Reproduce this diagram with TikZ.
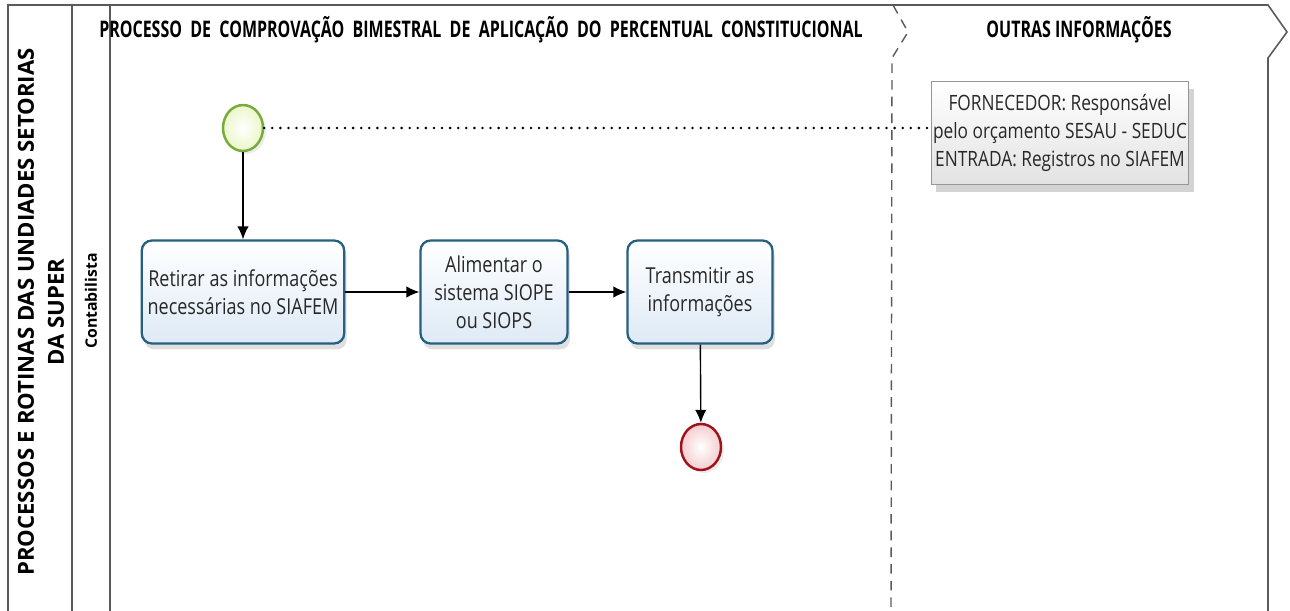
\documentclass[tikz,border=0pt]{standalone}
\usepackage{fontspec}
\setmainfont[FakeStretch=0.82]{Open Sans}
\newfontfamily\poolfont{Open Sans}
\newfontfamily\headfont[FakeStretch=0.70]{Open Sans}
\usepackage{xcolor}
\usetikzlibrary{shadows,arrows.meta,positioning,shapes.geometric}
\tikzset{>=latex}

\definecolor{frameline}{RGB}{90,90,90}
\definecolor{taskline}{RGB}{38,96,128}
\definecolor{taskfill}{RGB}{222,234,246}
\definecolor{startline}{RGB}{120,170,60}
\definecolor{startfill}{RGB}{236,246,200}
\definecolor{endline}{RGB}{160,20,25}
\definecolor{endfill}{RGB}{244,205,208}
\definecolor{noteline}{RGB}{150,150,150}
\definecolor{notefill}{RGB}{226,226,226}
\definecolor{txt}{RGB}{40,40,40}

\tikzset{
    lane/.style={draw=frameline, line width=0.9pt},
    phase/.style={draw=frameline, line width=0.8pt, dash pattern=on 5.5pt off 4pt},
    task/.style={
        draw=taskline, line width=1.3pt, rounded corners=0.2cm,
        top color=white, bottom color=taskfill,
        align=center, text=txt, minimum height=2.06cm,
        font=\fontsize{12.5}{16}\selectfont,
        drop shadow={shadow xshift=0.5mm, shadow yshift=-1.2mm, opacity=0.25},
    },
    event/.style={
        ellipse, line width=1.4pt, minimum width=0.8cm, minimum height=0.92cm, inner sep=0pt,
        drop shadow={shadow xshift=0.6mm, shadow yshift=-0.6mm, opacity=0.15},
    },
    note/.style={
        draw=noteline, line width=0.6pt, top color=white, bottom color=notefill,
        align=center, text=txt, minimum width=5.08cm, minimum height=2.06cm, inner xsep=1pt,
        font=\fontsize{12}{16}\selectfont,
        drop shadow={shadow xshift=1mm, shadow yshift=-1.5mm, opacity=0.35},
    },
    flow/.style={-{Latex[length=2.6mm, width=2.3mm]}, line width=0.8pt, black},
    header/.style={font=\headfont\bfseries\fontsize{13}{16}\selectfont, text=black},
}

\begin{document}
\begin{tikzpicture}[x=0.02cm, y=-0.02cm]
    \useasboundingbox (0,0) rectangle (1290,611);

    % pool and lane frame
    \draw[lane] (8,611) -- (8,5) -- (1268,5) -- (1287,32) -- (1268,58) -- (1268,611);
    \draw[lane] (72,5) -- (72,611);
    \draw[lane] (110,5) -- (110,611);
    \draw[phase] (893,5) -- (908,32) -- (892,58) -- (891,611);

    % labels
    \node[rotate=90, align=center, font=\poolfont\bfseries\fontsize{12.6}{17}\selectfont] (pool) at (41,312)
        {PROCESSOS E ROTINAS DAS UNDIADES SETORIAS\\DA SUPER};
    \node[rotate=90, font=\poolfont\bfseries\fontsize{9}{11}\selectfont] (lane) at (91,301) {Contabilista};
    \node[header] (phasea) at (481,30) {PROCESSO\ \ DE\ \ COMPROVAÇÃO\ \ BIMESTRAL\ \ DE\ \ APLICAÇÃO\ \ DO\ \ PERCENTUAL\ \ CONSTITUCIONAL};
    \node[header] (phaseb) at (1079,30) {OUTRAS INFORMAÇÕES};

    % events
    \node[event, draw=startline, inner color=white, outer color=startfill] (start) at (243,128) {};
    \node[event, draw=endline, inner color=white, outer color=endfill] (end) at (701,447) {};

    % tasks
    \node[task, minimum width=4cm] (retirar) at (243,292)
        {Retirar as informações\\necessárias no SIAFEM};
    \node[task, minimum width=2.94cm] (alimentar) at (494,292)
        {Alimentar o\\sistema SIOPE\\ou SIOPS};
    \node[task, minimum width=2.9cm] (transmitir) at (700,292)
        {Transmitir as\\informações};

    % annotation
    \node[note] (info) at (1060,133)
        {FORNECEDOR: Responsável\\pelo orçamento SESAU - SEDUC\\ENTRADA: Registros no SIAFEM};

    % connectors
    \draw[flow] (start) -- (retirar);
    \draw[flow] (retirar) -- (alimentar);
    \draw[flow] (alimentar) -- (transmitir);
    \draw[flow] (transmitir) -- (end);
    \draw[line width=1.6pt, dash pattern=on 0pt off 4.6pt, line cap=round] (start) -- (start -| info.west);
\end{tikzpicture}
\end{document}
